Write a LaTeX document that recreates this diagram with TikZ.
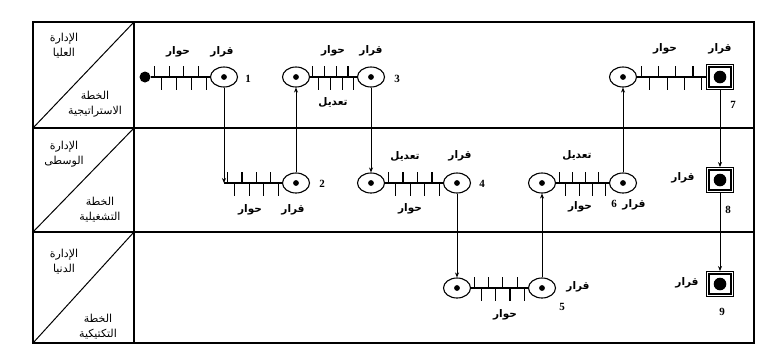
\documentclass[tikz,border=0pt]{standalone}
\usepackage{fontspec}
\setmainfont{Liberation Serif}
\newfontfamily\arabicfont[Script=Arabic]{DejaVu Sans}
\TeXXeTstate=1
\usetikzlibrary{shapes.geometric,arrows.meta,calc}

\tikzset{
 dec/.style={ellipse, draw, line width=1.1pt, minimum width=27pt, minimum height=20pt, inner sep=0pt,
   path picture={\fill (path picture bounding box.center) circle (2.9pt);}},
 fin/.style={rectangle, draw, line width=0.9pt, minimum width=27pt, minimum height=25pt, inner sep=0pt,
   path picture={\fill (path picture bounding box.center) circle (6.3pt);}},
 startdot/.style={circle, fill, inner sep=0pt, minimum size=11pt},
 ar/.style={font=\arabicfont\bfseries\fontsize{10.5}{12}\selectfont, inner sep=0pt},
 hd/.style={font=\arabicfont\fontsize{11}{15}\selectfont, inner sep=0pt, align=center},
 num/.style={font=\bfseries\fontsize{11}{12}\selectfont, inner sep=0pt},
 conn/.style={line width=0.8pt, -{Stealth[length=5pt,width=4pt]}},
 hatch/.style={line width=1.1pt},
 frame/.style={line width=1.3pt},
}

\newcommand\hatchline[2]{%
  \draw[hatch] (#1) -- (#2);
  \foreach \k in {0,...,7}{%
    \pgfmathsetmacro\hf{0.06+0.125*\k}%
    \pgfmathsetmacro\hs{mod(\k,2)==0 ? -11 : 13}%
    \draw[hatch] ($(#1)!\hf!(#2)$) -- ++(0,\hs);
  }%
}

\begin{document}
\begin{tikzpicture}[x=1pt,y=-1pt]
\useasboundingbox (0,0) rectangle (759,360);
% frame
\draw[frame] (33,22) rectangle (754,343);
\draw[frame] (33,128) -- (754,128);
\draw[frame] (33,232) -- (754,232);
\draw[frame] (134,22) -- (134,343);
\draw[line width=1pt] (33,128) -- (134,22);
\draw[line width=1pt] (33,232) -- (134,128);
\draw[line width=1pt] (33,343) -- (134,232);
% left column texts
\node[hd] (h1) at (64,46) {\beginR الإدارة\endR\\\beginR العليا\endR};
\node[hd] (p1) at (95,104) {\beginR الخطة\endR\\\beginR الاستراتيجية\endR};
\node[hd] (h2) at (64,154) {\beginR الإدارة\endR\\\beginR الوسطى\endR};
\node[hd] (p2) at (100,210) {\beginR الخطة\endR\\\beginR التشغيلية\endR};
\node[hd] (h3) at (64,262) {\beginR الإدارة\endR\\\beginR الدنيا\endR};
\node[hd] (p3) at (98,327) {\beginR الخطة\endR\\\beginR التكتيكية\endR};

% nodes
\node[startdot] (d1) at (145,77) {};
\node[dec] (c1) at (224,77) {};
\coordinate (s2) at (224,183);
\node[dec] (c2) at (296,183) {};
\node[dec] (c3a) at (296,77) {};
\node[dec] (c3b) at (371,77) {};
\node[dec] (c4a) at (371,183) {};
\node[dec] (c4b) at (457,183) {};
\node[dec] (c5a) at (457,288) {};
\node[dec] (c5b) at (542,288) {};
\node[dec] (c6a) at (542,183) {};
\node[dec] (c6b) at (623,183) {};
\node[dec] (c7a) at (623,77) {};
\node[fin] (q7) at (720,77) {};
\node[fin] (q8) at (720,180) {};
\node[fin] (q9) at (720,284) {};
\foreach \q in {q7,q8,q9}
  \draw[line width=2pt] ([shift={(3,3)}]\q.north west) rectangle ([shift={(-3,-3)}]\q.south east);

% hatched lines
\hatchline{d1.east}{c1.west}
\hatchline{s2}{c2.west}
\hatchline{c3a.east}{c3b.west}
\hatchline{c4a.east}{c4b.west}
\hatchline{c5a.east}{c5b.west}
\hatchline{c6a.east}{c6b.west}
\hatchline{c7a.east}{q7.west}

% connectors
\draw[conn] (c1.south) -- (s2);
\draw[conn] (c2.north) -- (c3a.south);
\draw[conn] (c3b.south) -- (c4a.north);
\draw[conn] (c4b.south) -- (c5a.north);
\draw[conn] (c5b.north) -- (c6a.south);
\draw[conn] (c6b.north) -- (c7a.south);
\draw[conn] (q7.south) -- (q8.north);
\draw[conn] (q8.south) -- (q9.north);

% labels
\node[ar] (l1a) at (178,52) {\beginR حوار\endR};
\node[ar] (l1b) at (222,52) {\beginR قرار\endR};
\node[num] (n1) at (248,79) {1};
\node[ar] (l2a) at (250,210) {\beginR حوار\endR};
\node[ar] (l2b) at (293,210) {\beginR قرار\endR};
\node[num] (n2) at (322,184) {2};
\node[ar] (l3a) at (333,51) {\beginR حوار\endR};
\node[ar] (l3b) at (371,51) {\beginR قرار\endR};
\node[ar] (l3c) at (333,102) {\beginR تعديل\endR};
\node[num] (n3) at (397,79) {3};
\node[ar] (l4a) at (405,156) {\beginR تعديل\endR};
\node[ar] (l4b) at (460,156) {\beginR قرار\endR};
\node[ar] (l4c) at (410,209) {\beginR حوار\endR};
\node[num] (n4) at (482,184) {4};
\node[ar] (l5a) at (505,315) {\beginR حوار\endR};
\node[ar] (l5b) at (578,287) {\beginR قرار\endR};
\node[num] (n5) at (562,307) {5};
\node[ar] (l6a) at (577,155) {\beginR تعديل\endR};
\node[ar] (l6b) at (580,207) {\beginR حوار\endR};
\node[ar] (l6c) at (634,205) {\beginR قرار\endR};
\node[num] (n6) at (614,204) {6};
\node[ar] (l7a) at (665,49) {\beginR حوار\endR};
\node[ar] (l7b) at (720,49) {\beginR قرار\endR};
\node[num] (n7) at (733,105) {7};
\node[ar] (l8) at (683,178) {\beginR قرار\endR};
\node[num] (n8) at (728,210) {8};
\node[ar] (l9) at (687,283) {\beginR قرار\endR};
\node[num] (n9) at (722,312) {9};
\end{tikzpicture}
\end{document}
